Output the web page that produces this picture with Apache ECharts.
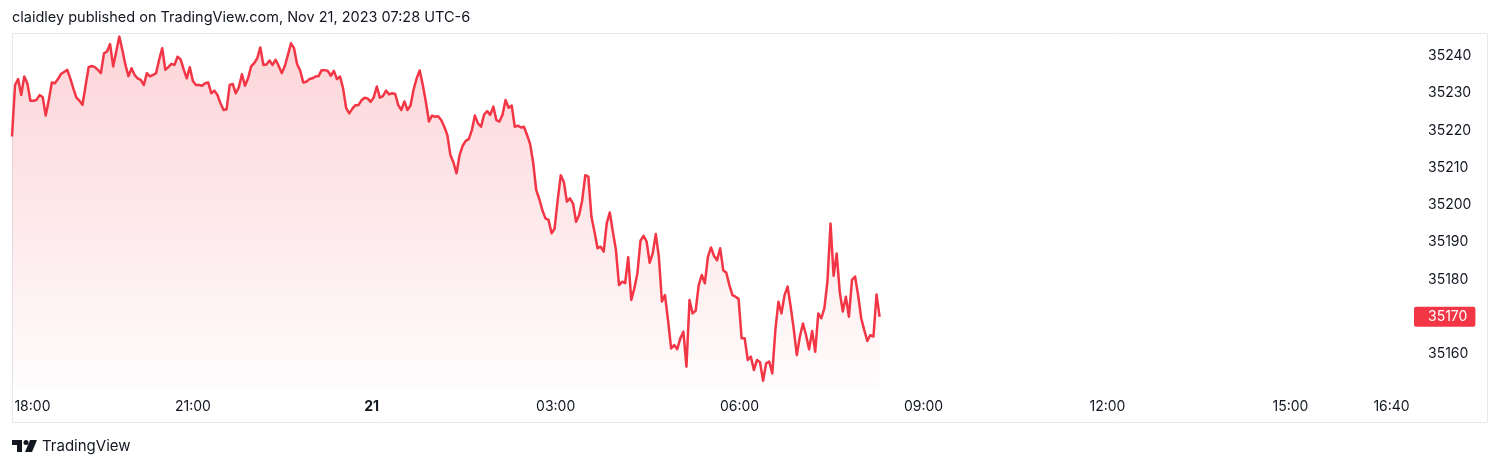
<!DOCTYPE html>
<html>
<head>
<meta charset="utf-8">
<script src="https://cdn.jsdelivr.net/npm/echarts@6/dist/echarts.min.js"></script>
<style>
html,body{margin:0;padding:0;background:#ffffff;}
#chart{width:1500px;height:466px;}
</style>
</head>
<body>
<div id="chart"></div>
<script>
// ---- data ----
// x axis is in "bar" units (minutes after 18:00, TradingView index-style scale)
const startBar = 8;
const barStep = 3;
const prices = [
 35218.4,35232.2,35233.8,35229.5,35234.5,35232.7,35228,35228,35228.2,35229.5,
 35229,35224,35228.2,35232.9,35232.7,35233.8,35235.2,35235.7,35236.3,35234,
 35231.3,35228.8,35228,35226.9,35232,35237,35237.3,35237,35236.3,35235.4,
 35240.7,35241.2,35243.2,35237.2,35241.2,35245.2,35241.6,35237.6,35234.6,35236.7,
 35234.9,35234,35233.6,35232.2,35235.4,35234.5,35234.9,35235.4,35239,35242.1,
 35236.3,35237,35237.9,35237.6,35239.8,35239.1,35236.4,35234,35237,35233.3,
 35232.2,35232.2,35232,35232.7,35232.9,35230,35230.7,35229.6,35227.3,35225.5,
 35225.7,35232.2,35232.5,35230,35231.6,35235.1,35232,35234,35237.2,35238.1,
 35239.4,35242.3,35237.6,35237.7,35238.8,35237.6,35239,35237.3,35235.4,35237.3,
 35240.3,35243.4,35242.1,35237.8,35236.1,35232.9,35233.1,35233.8,35234,35234.5,
 35234.6,35236.2,35236.2,35236,35234.7,35236,35233.8,35234.5,35231.3,35226,
 35224.6,35225.8,35226.8,35226.8,35228.1,35228.8,35228.6,35227.7,35228.9,35231.8,
 35228.8,35229.2,35230.7,35229.7,35230,35229.8,35226.8,35225.5,35227.8,35225.5,
 35226.7,35231,35234,35236.1,35232.2,35227.7,35222.4,35224,35223.7,35223.8,
 35222.8,35221,35218.8,35213.4,35211.4,35208.5,35213.4,35215.9,35217.2,35217.7,
 35220.1,35224,35221.9,35221,35224.3,35225.2,35224.2,35226.4,35222.8,35222.4,
 35224.2,35228.2,35226.1,35226.7,35221,35221.3,35220.8,35221,35218.8,35216.4,
 35211.4,35204,35201.6,35198.6,35196.4,35196,35192.4,35193.7,35201.3,35208,
 35206.2,35200.9,35201.8,35200.4,35195.5,35197.3,35201.3,35208,35207.6,35196.9,
 35192.8,35188.4,35188.8,35187.5,35195.1,35198,35192.8,35187.9,35178.5,35179.4,
 35179,35186,35174.5,35177.6,35181.7,35190.4,35191.7,35190.2,35184.5,35187,
 35192.2,35186.1,35174.1,35175.8,35169,35161.5,35162.4,35161.3,35164.2,35166,
 35156.6,35174.5,35170.9,35171.6,35178.5,35181.2,35179,35186.1,35188.6,35186.3,
 35185.2,35188.4,35182.5,35181.8,35178.5,35175.8,35175.4,35174.8,35164.2,35164.2,
 35158.4,35159.3,35155.7,35158.4,35157.8,35152.8,35157.5,35158,35154.8,35166.4,
 35174,35170.9,35175.8,35178.1,35172.7,35166.7,35159.7,35164.7,35168.2,35165.1,
 35161.3,35166.2,35160.6,35170.9,35169.6,35172.3,35179.6,35195,35181,35187,
 35176.7,35171.4,35175.4,35170,35179.9,35180.8,35175.8,35169.6,35166.4,35163.5,
 35165.1,35164.7,35176,35170
];
const xTickPositions = [28, 185, 360, 540, 720, 900, 1080, 1259, 1358];
const xTickLabels = ['18:00', '21:00', '21', '03:00', '06:00', '09:00', '12:00', '15:00', '16:40'];
const yTicks = [35160, 35170, 35180, 35190, 35200, 35210, 35220, 35230, 35240];
const xRange = [8, 1378];
const yRange = [35150.34, 35246.17];
const headerText = 'claidley published on TradingView.com, Nov 21, 2023 07:28 UTC-6';
const brandText = 'TradingView';

// ---- chart ----
const FONT = 'Inter, "Noto Sans", "DejaVu Sans", sans-serif';
const TEXT = '#131722';
const RED = '#f23645';
const seriesData = prices.map((p, i) => [startBar + i * barStep, p]);
const lastPrice = prices[prices.length - 1];

const chart = echarts.init(document.getElementById('chart'), null, {renderer: 'canvas'});
chart.setOption({
  animation: false,
  backgroundColor: '#ffffff',
  title: {
    text: headerText,
    left: 12, top: 10, padding: 0,
    textStyle: {fontSize: 14.5, fontWeight: 'normal', color: TEXT, fontFamily: FONT}
  },
  grid: {left: 12, top: 33, width: 1400, height: 357, containLabel: false},
  xAxis: {
    type: 'value', min: xRange[0], max: xRange[1],
    axisLine: {show: false}, axisTick: {show: false}, splitLine: {show: false},
    axisLabel: {
      customValues: xTickPositions,
      margin: 10,
      color: TEXT, fontSize: 14, fontFamily: FONT,
      formatter: function (v) {
        const i = xTickPositions.indexOf(v);
        const t = i >= 0 ? xTickLabels[i] : '';
        return t.indexOf(':') < 0 ? '{b|' + t + '}' : t;
      },
      rich: {b: {fontWeight: 'bold', fontSize: 14, color: TEXT, fontFamily: FONT}}
    }
  },
  yAxis: {
    type: 'value', position: 'right', min: yRange[0], max: yRange[1],
    axisLine: {show: false}, axisTick: {show: false}, splitLine: {show: false},
    axisLabel: {
      customValues: yTicks, margin: 16,
      color: TEXT, fontSize: 14, fontFamily: FONT,
      formatter: v => String(v)
    }
  },
  series: [{
    type: 'line',
    data: seriesData,
    symbol: 'none', showSymbol: false,
    lineStyle: {color: RED, width: 2.5, join: 'round'},
    areaStyle: {
      color: new echarts.graphic.LinearGradient(0, 0, 0, 1, [
        {offset: 0, color: 'rgba(242,54,69,0.30)'},
        {offset: 1, color: 'rgba(242,54,69,0.02)'}
      ])
    },
    emphasis: {disabled: true},
    markLine: {
      silent: true, symbol: ['none', 'none'],
      lineStyle: {color: 'rgba(0,0,0,0)', width: 0, type: 'solid'},
      emphasis: {disabled: true},
      data: [{yAxis: lastPrice}],
      label: {
        show: true, position: 'end', distance: 2,
        formatter: String(lastPrice),
        color: '#ffffff', backgroundColor: RED, opacity: 1,
        padding: [3, 8, 3, 14], borderRadius: 2,
        fontSize: 14, fontFamily: FONT
      }
    }
  }],
  graphic: [
    {type: 'rect', z: -10, silent: true,
     shape: {x: 12.5, y: 33.5, width: 1475, height: 389},
     style: {fill: 'none', stroke: '#e6e9f0', lineWidth: 1}},
    {type: 'polygon', silent: true,
     shape: {points: [[12, 440], [22, 440], [22, 452], [17, 452], [17, 445], [12, 445]]},
     style: {fill: TEXT}},
    {type: 'circle', silent: true, shape: {cx: 26, cy: 442.5, r: 2.5}, style: {fill: TEXT}},
    {type: 'polygon', silent: true,
     shape: {points: [[30, 440], [37, 440], [32, 452], [25, 452]]},
     style: {fill: TEXT}},
    {type: 'text', silent: true, x: 42, y: 446,
     style: {text: brandText, fontSize: 15, fontFamily: FONT, fill: TEXT, verticalAlign: 'middle'}}
  ]
});
</script>
</body>
</html>
